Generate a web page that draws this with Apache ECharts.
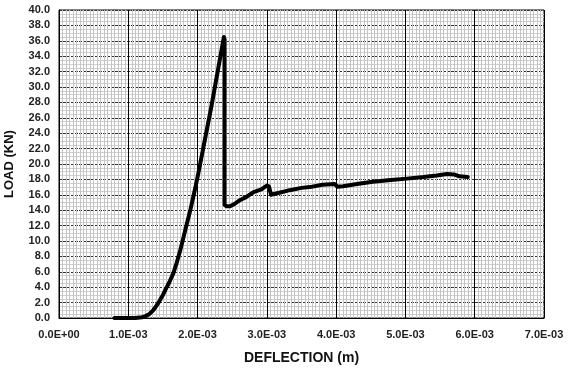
<!DOCTYPE html>
<html>
<head>
<meta charset="utf-8">
<script src="https://cdn.jsdelivr.net/npm/echarts@6/dist/echarts.min.js"></script>
<style>html,body{margin:0;padding:0;background:#fff}#c{width:572px;height:369px}</style>
</head>
<body>
<div id="c"></div>
<script>
// Deflection (m) and load (kN)
const deflection = [0.80e-3,0.95e-3,1.10e-3,1.20e-3,1.25e-3,1.30e-3,1.35e-3,1.40e-3,1.45e-3,1.50e-3,1.55e-3,1.60e-3,1.65e-3,1.70e-3,1.75e-3,1.80e-3,1.85e-3,1.90e-3,1.95e-3,2.00e-3,2.20e-3,2.38e-3,2.39e-3,2.39e-3,2.42e-3,2.47e-3,2.53e-3,2.61e-3,2.70e-3,2.80e-3,2.92e-3,3.00e-3,3.03e-3,3.06e-3,3.15e-3,3.33e-3,3.50e-3,3.62e-3,3.80e-3,3.98e-3,4.02e-3,4.10e-3,4.30e-3,4.53e-3,4.75e-3,5.02e-3,5.26e-3,5.45e-3,5.60e-3,5.70e-3,5.78e-3,5.90e-3];
const load = [0.0,0.0,0.0,0.1,0.25,0.5,0.9,1.5,2.2,3.0,3.9,4.8,5.8,7.2,8.8,10.6,12.4,14.2,16.2,18.3,27.5,36.5,36.2,14.7,14.5,14.5,14.8,15.3,15.7,16.3,16.7,17.2,17.1,16.0,16.2,16.6,16.9,17.0,17.3,17.4,17.05,17.1,17.4,17.7,17.9,18.1,18.3,18.5,18.7,18.65,18.4,18.3];
const xTicks = ['0.0E+00','1.0E-03','2.0E-03','3.0E-03','4.0E-03','5.0E-03','6.0E-03','7.0E-03'];
const yTicks = [0,2,4,6,8,10,12,14,16,18,20,22,24,26,28,30,32,34,36,38,40];

const chart = echarts.init(document.getElementById('c'), null, {renderer:'canvas'});
const font = 'Liberation Sans, Arial, sans-serif';
chart.setOption({
  animation:false,
  grid:{left:59,top:10,right:28,bottom:51,containLabel:false,outerBoundsMode:'none',show:true,borderColor:'#000',borderWidth:1,backgroundColor:'#fff'},
  xAxis:{
    type:'value',min:0,max:0.007,interval:0.001,
    name:'DEFLECTION (m)',nameLocation:'middle',nameGap:33,
    nameTextStyle:{fontFamily:font,fontWeight:'bold',fontSize:14,color:'#111'},
    axisLine:{show:true,onZero:false,lineStyle:{color:'#000',width:1}},
    axisTick:{show:false},
    axisLabel:{margin:11,fontFamily:font,fontWeight:'bold',fontSize:11,color:'#222',
      formatter:function(v){return xTicks[Math.round(v/0.001)];}},
    splitLine:{show:true,lineStyle:{color:'#000',width:1}},
    minorTick:{show:false,splitNumber:20},
    minorSplitLine:{show:true,lineStyle:{color:'#c4c4c4',width:1}}
  },
  yAxis:{
    type:'value',min:0,max:40,interval:2,
    name:'LOAD (KN)',nameLocation:'middle',nameGap:43,nameRotate:90,
    nameTextStyle:{fontFamily:font,fontWeight:'bold',fontSize:13,color:'#111'},
    axisLine:{show:true,lineStyle:{color:'#000',width:1}},
    axisTick:{show:false},
    axisLabel:{margin:9,fontFamily:font,fontWeight:'bold',fontSize:11,color:'#222',
      formatter:function(v){return yTicks[Math.round(v/2)].toFixed(1);}},
    splitLine:{show:true,lineStyle:{color:'#333',width:1,type:[3,1]}},
    minorTick:{show:false,splitNumber:4},
    minorSplitLine:{show:true,lineStyle:{color:'#cfcfcf',width:1}}
  },
  series:[{
    type:'line',data:deflection.map((d,i)=>[d,load[i]]),
    showSymbol:false,symbol:'none',smooth:false,
    lineStyle:{color:'#000',width:4,join:'round',cap:'round'}
  }]
});
</script>
</body>
</html>
